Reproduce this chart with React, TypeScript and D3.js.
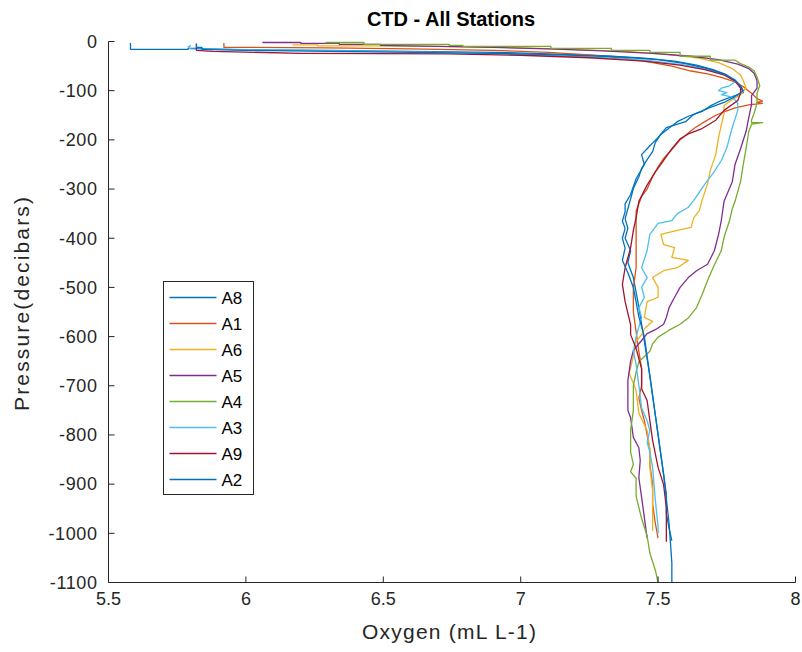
import React from "react";
import * as d3 from "d3";

const SERIES_NAMES = ["A8", "A1", "A6", "A5", "A4", "A3", "A9", "A2"];
const COLORS = ["#0072BD", "#D95319", "#EDB120", "#7E2F8E", "#77AC30", "#4DBEEE", "#A2142F", "#0072BD"];
const X_TICKS = [5.5, 6, 6.5, 7, 7.5, 8];
const Y_TICKS = [0, -100, -200, -300, -400, -500, -600, -700, -800, -900, -1000, -1100];

// [oxygen (mL L-1), pressure (decibars)]
const A8: [number, number][] = [
  [5.58, -3], [5.58, -16], [5.79, -16], [5.79, -14], [5.81, -14], [6.0, -17], [6.3, -18], [6.6, -20], [6.9, -22], [7.1, -25],
  [7.3, -29], [7.45, -34], [7.56, -40], [7.64, -48], [7.7, -57], [7.75, -68], [7.78, -80], [7.8, -92], [7.81, -104], [7.77, -112],
  [7.73, -120], [7.69, -131], [7.66, -142], [7.61, -152], [7.57, -163], [7.54, -176], [7.51, -189], [7.49, -205], [7.48, -224],
  [7.46, -240], [7.44, -258], [7.43, -275], [7.41, -299], [7.4, -320], [7.39, -340], [7.38, -360], [7.39, -380], [7.38, -400],
  [7.4, -425], [7.39, -450], [7.41, -480], [7.42, -510], [7.43, -540], [7.44, -575], [7.45, -610], [7.46, -645], [7.47, -680],
  [7.48, -720], [7.49, -760], [7.5, -800], [7.51, -840], [7.52, -880], [7.53, -920], [7.53, -960], [7.54, -990], [7.55, -1015],
];
const A1: [number, number][] = [
  [5.92, -3], [5.92, -12], [6.0, -12], [6.3, -13], [6.6, -15], [6.9, -18], [7.1, -22], [7.25, -27], [7.37, -34], [7.47, -42],
  [7.55, -50], [7.62, -60], [7.68, -66], [7.73, -73], [7.78, -82], [7.81, -92], [7.84, -105], [7.86, -116], [7.88, -121],
  [7.86, -124], [7.88, -126], [7.83, -129], [7.78, -135], [7.74, -143], [7.71, -150], [7.67, -163], [7.63, -177], [7.58, -200],
  [7.55, -220], [7.52, -238], [7.5, -255], [7.48, -275], [7.46, -300], [7.44, -315], [7.43, -330], [7.42, -345], [7.42, -400],
  [7.42, -460], [7.41, -500], [7.41, -550], [7.42, -590], [7.43, -630], [7.44, -665], [7.44, -700], [7.43, -725], [7.44, -750],
  [7.45, -771], [7.46, -800], [7.47, -830], [7.47, -860], [7.48, -900], [7.48, -940], [7.49, -980], [7.5, -1010],
];
const A6: [number, number][] = [
  [6.17, -7], [6.26, -7], [6.26, -9], [6.45, -9], [6.7, -10], [6.95, -12], [7.18, -16], [7.38, -20], [7.53, -26], [7.64, -33],
  [7.72, -43], [7.77, -55], [7.8, -68], [7.81, -80], [7.82, -95], [7.8, -108], [7.77, -118], [7.74, -130], [7.74, -146],
  [7.73, -170], [7.72, -195], [7.71, -230], [7.69, -262], [7.68, -289], [7.66, -323], [7.65, -344], [7.63, -358], [7.62, -378],
  [7.57, -384], [7.51, -392], [7.52, -413], [7.56, -419], [7.55, -439], [7.61, -445], [7.57, -460], [7.52, -466], [7.48, -480],
  [7.5, -500], [7.5, -520], [7.46, -529], [7.45, -561], [7.48, -569], [7.45, -584], [7.44, -596], [7.42, -610], [7.41, -640],
  [7.4, -663], [7.395, -675], [7.41, -695], [7.42, -710], [7.43, -756], [7.46, -791], [7.47, -830], [7.47, -866], [7.48, -913],
  [7.48, -956], [7.48, -995],
];
const A5: [number, number][] = [
  [6.06, -2], [6.2, -2], [6.2, -4], [6.34, -4], [6.34, -6], [6.49, -6], [6.49, -8], [6.7, -10], [6.9, -12], [7.1, -15],
  [7.3, -19], [7.48, -24], [7.62, -30], [7.72, -37], [7.79, -46], [7.83, -55], [7.85, -65], [7.86, -80], [7.86, -95],
  [7.84, -110], [7.84, -128], [7.83, -155], [7.82, -183], [7.8, -218], [7.78, -250], [7.77, -285], [7.74, -325], [7.73, -364],
  [7.72, -392], [7.705, -425], [7.68, -453], [7.64, -466], [7.61, -480], [7.58, -500], [7.56, -520], [7.54, -541], [7.53, -561],
  [7.52, -575], [7.49, -586], [7.46, -594], [7.44, -608], [7.41, -628], [7.4, -650], [7.39, -689], [7.39, -750], [7.4, -765],
  [7.41, -805], [7.43, -826], [7.435, -852], [7.43, -887], [7.44, -927], [7.45, -968], [7.46, -1010],
];
const A4: [number, number][] = [
  [6.29, -2], [6.43, -2], [6.43, -6], [6.74, -6], [6.74, -8], [6.79, -8], [6.79, -10], [7.11, -10], [7.11, -14], [7.33, -14],
  [7.33, -18], [7.47, -18], [7.47, -22], [7.58, -22], [7.58, -30], [7.69, -30], [7.69, -38], [7.78, -38], [7.8, -45], [7.83, -52],
  [7.85, -60], [7.86, -72], [7.87, -90], [7.86, -105], [7.86, -125], [7.85, -145], [7.84, -160], [7.84, -165], [7.88, -165],
  [7.84, -168], [7.83, -183], [7.82, -218], [7.81, -250], [7.8, -285], [7.78, -325], [7.77, -340], [7.76, -364], [7.74, -398],
  [7.73, -425], [7.7, -460], [7.68, -486], [7.66, -515], [7.64, -541], [7.61, -562], [7.58, -575], [7.54, -587], [7.5, -601],
  [7.48, -615], [7.47, -630], [7.43, -651], [7.42, -672], [7.41, -700], [7.41, -750], [7.4, -790], [7.4, -835], [7.41, -860],
  [7.4, -875], [7.42, -888], [7.42, -925], [7.44, -970], [7.46, -1005], [7.47, -1040], [7.49, -1075], [7.5, -1100],
];
const A3: [number, number][] = [
  [5.8, -8], [5.79, -11], [5.8, -15], [5.93, -16], [6.2, -18], [6.5, -20], [6.8, -23], [7.05, -27], [7.28, -32], [7.47, -39],
  [7.6, -48], [7.69, -58], [7.75, -70], [7.78, -82], [7.76, -90], [7.73, -95], [7.72, -100], [7.75, -104], [7.73, -108],
  [7.77, -113], [7.79, -125], [7.79, -140], [7.77, -175], [7.75, -216], [7.73, -242], [7.7, -268], [7.67, -290], [7.63, -323],
  [7.61, -337], [7.57, -350], [7.55, -364], [7.5, -370], [7.47, -392], [7.46, -425], [7.44, -460], [7.46, -480], [7.44, -500],
  [7.45, -520], [7.43, -541], [7.44, -561], [7.42, -600], [7.41, -630], [7.42, -657], [7.43, -700], [7.44, -745], [7.46, -771],
  [7.47, -791], [7.46, -815], [7.47, -835], [7.48, -866], [7.49, -933], [7.5, -988], [7.5, -1000],
];
const A9: [number, number][] = [
  [5.82, -4], [5.82, -18], [5.88, -20], [6.2, -24], [6.74, -25], [7.0, -28], [7.25, -33], [7.45, -40], [7.58, -48], [7.67, -57],
  [7.74, -68], [7.78, -80], [7.8, -95], [7.8, -105], [7.79, -120], [7.74, -140], [7.71, -160], [7.66, -177], [7.61, -188],
  [7.58, -198], [7.55, -218], [7.51, -250], [7.49, -265], [7.46, -292], [7.43, -325], [7.42, -358], [7.41, -384], [7.4, -419],
  [7.38, -460], [7.37, -494], [7.38, -529], [7.4, -576], [7.4, -596], [7.42, -624], [7.43, -645], [7.44, -665], [7.44, -706],
  [7.46, -730], [7.47, -771], [7.48, -811], [7.5, -866], [7.52, -901], [7.53, -948], [7.53, -1017],
];
const A2: [number, number][] = [
  [5.82, -5], [5.82, -12], [5.84, -12], [5.84, -16], [6.0, -18], [6.3, -20], [6.6, -22], [6.9, -24], [7.15, -27], [7.35, -31],
  [7.5, -37], [7.6, -45], [7.68, -55], [7.74, -66], [7.78, -78], [7.8, -90], [7.81, -100], [7.78, -112], [7.74, -124],
  [7.69, -134], [7.63, -148], [7.6, -163], [7.53, -175], [7.5, -195], [7.46, -218], [7.44, -230], [7.45, -250], [7.42, -279],
  [7.4, -311], [7.38, -330], [7.38, -346], [7.37, -365], [7.38, -380], [7.37, -400], [7.38, -420], [7.37, -445], [7.39, -470],
  [7.41, -500], [7.42, -530], [7.43, -560], [7.45, -600], [7.46, -640], [7.47, -680], [7.48, -720], [7.49, -760], [7.5, -800],
  [7.51, -840], [7.52, -880], [7.53, -930], [7.54, -980], [7.545, -1020], [7.55, -1060], [7.55, -1100],
];

const SERIES = [A8, A1, A6, A5, A4, A3, A9, A2];

const W = 802;
const H = 652;
const FONT = "'Liberation Sans', Arial, Helvetica, sans-serif";
const AXIS = "#262626";

export default function App() {
  const x = d3.scaleLinear().domain([5.5, 8]).range([108.5, 795.5]);
  const y = d3.scaleLinear().domain([-1100, 0]).range([582.5, 41.5]);
  const line = d3
    .line<[number, number]>()
    .x((d) => x(d[0]))
    .y((d) => y(d[1]));

  const legX = 163.5;
  const legY = 281.5;
  const legW = 90;
  const legH = 213;
  const rowH = 26;

  return (
    <svg width={W} height={H} style={{ position: "absolute", left: 0, top: 0, background: "#fff" }} fontFamily={FONT}>
      <rect width={W} height={H} fill="#fff" />
      {SERIES.map((s, i) => (
        <path key={i} d={line(s) || ""} fill="none" stroke={COLORS[i]} strokeWidth={1.3} strokeLinejoin="round" />
      ))}
      {/* axes */}
      <line x1={x(5.5)} x2={x(5.5)} y1={y(0)} y2={y(-1100)} stroke={AXIS} strokeWidth={1} />
      <line x1={x(5.5)} x2={x(8)} y1={y(-1100)} y2={y(-1100)} stroke={AXIS} strokeWidth={1} />
      {Y_TICKS.map((t) => (
        <g key={t}>
          <line x1={x(5.5)} x2={x(5.5) + 6} y1={y(t)} y2={y(t)} stroke={AXIS} />
          <text x={x(5.5) - 11} y={y(t)} dy="0.35em" textAnchor="end" fontSize={18} letterSpacing={0.6} fill={AXIS}>
            {t}
          </text>
        </g>
      ))}
      {X_TICKS.map((t) => (
        <g key={t}>
          <line x1={x(t)} x2={x(t)} y1={y(-1100)} y2={y(-1100) - 6} stroke={AXIS} />
          <text x={x(t)} y={y(-1100) + 22} textAnchor="middle" fontSize={18} fill={AXIS}>
            {d3.format("")(t)}
          </text>
        </g>
      ))}
      <text x={451} y={26} textAnchor="middle" fontSize={20} fontWeight="bold" fill="#000">
        CTD - All Stations
      </text>
      <text x={449} y={639} textAnchor="middle" fontSize={21} textLength={174} lengthAdjust="spacing" fill={AXIS}>
        Oxygen (mL L-1)
      </text>
      <text
        transform={`translate(29,304) rotate(-90)`}
        textAnchor="middle"
        fontSize={21}
        textLength={214}
        lengthAdjust="spacing"
        fill={AXIS}
      >
        Pressure(decibars)
      </text>
      {/* legend */}
      <rect x={legX} y={legY} width={legW} height={legH} fill="#fff" stroke={AXIS} strokeWidth={1} />
      {SERIES_NAMES.map((n, i) => {
        const cy = legY + 16 + i * rowH;
        return (
          <g key={n}>
            <line x1={legX + 6} x2={legX + 53} y1={cy} y2={cy} stroke={COLORS[i]} strokeWidth={1.3} />
            <text x={legX + 58} y={cy} dy="0.36em" fontSize={17} fill="#000">
              {n}
            </text>
          </g>
        );
      })}
    </svg>
  );
}
